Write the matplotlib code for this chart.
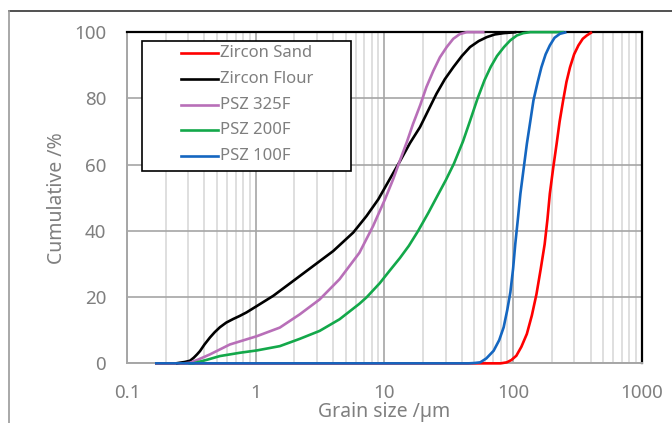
import numpy as np
import matplotlib.pyplot as plt
from matplotlib.lines import Line2D
from matplotlib.patches import Rectangle
from matplotlib.ticker import LogLocator, NullFormatter

plt.rcParams['font.family'] = ['Noto Sans', 'DejaVu Sans']

# grain size (um) and cumulative passing (%) for each powder
sand_x = [0.165, 50, 80, 89.3, 97, 106, 116, 128, 140, 152, 164, 176, 185, 193, 205, 218, 230,
          245, 260, 277, 298, 322, 348, 374, 410]
sand_y = [0, 0, 0, 0.3, 1.0, 2.3, 5.0, 8.9, 14.5, 20.9, 28.5, 36, 43.5, 51.2, 59, 66.3, 73,
          79.4, 85, 89.4, 93.3, 96, 98, 99, 100]

flour_x = [0.24, 0.258, 0.28, 0.309, 0.33, 0.35, 0.369, 0.40, 0.441, 0.48, 0.527, 0.59, 0.669,
           0.75, 0.85, 1.02, 1.37, 1.96, 2.8, 4.0, 5.73, 7.27, 8.96, 11.0, 13.2, 15.8, 18.9,
           22, 25.4, 29.5, 34.3, 40, 46.3, 54, 62.5, 72, 84.5, 106]
flour_y = [0, 0.2, 0.4, 0.8, 1.7, 2.7, 3.7, 5.7, 7.8, 9.4, 10.9, 12.3, 13.4,
           14.3, 15.4, 17.3, 20.4, 24.9, 29.4, 33.9, 39.5, 44.5, 49.5, 55.6, 61.0, 66.5, 71.3,
           76.5, 81.4, 85.8, 89.4, 92.8, 95.5, 97.3, 98.5, 99.3, 99.7, 100]

psz325_x = [0.28, 0.309, 0.36, 0.441, 0.63, 1.02, 1.54, 2.2, 3.14, 4.48, 6.4, 8.18, 10.1,
            11.7, 13.2, 15, 16.7, 19, 21.2, 24, 27, 30.5, 34.3, 38.5, 43.6, 60]
psz325_y = [0, 0.2, 1.2, 2.7, 5.7, 8.2, 10.8, 14.8, 19.3, 25.4, 33.4, 41.5, 49.5,
            55.6, 61.2, 67, 72.3, 78, 83.4, 88.3, 92.4, 95.5, 98, 99.4, 100, 100]

psz200_x = [0.3, 0.327, 0.42, 0.527, 0.754, 1.02, 1.54, 2.2, 3.14, 4.48, 6.4, 7.3, 9.2,
            11, 13.2, 15.5, 18.3, 22, 26, 30, 34.7, 40.8, 46.3, 53, 60, 67, 75, 85, 95,
            107, 120, 136, 250]
psz200_y = [0, 0, 1.1, 2.2, 3.2, 3.9, 5.2, 7.4, 9.8, 13.3, 18.0, 20.0, 24.2,
            28.0, 31.8, 35.5, 40.0, 45.5, 50.8, 55.3, 60.3, 67, 73.2, 80, 85.5, 89.5, 92.8,
            95.5, 97.5, 99, 99.7, 100, 100]

psz100_x = [0.165, 45, 50, 55.6, 62, 70.6, 78, 84.5, 90, 95.3, 100, 104, 109, 114, 121, 128,
            136, 144, 155, 166, 179, 193, 210, 231, 260]
psz100_y = [0, 0, 0.1, 0.3, 1.5, 3.8, 7.0, 10.9, 16.0, 21.5, 28.5, 36, 43.6, 51.2, 59, 66.3,
            73, 79.4, 84.8, 89.4, 93.3, 96, 98.3, 99.5, 100]

names = ['Zircon Sand', 'Zircon Flour', 'PSZ 325F', 'PSZ 200F', 'PSZ 100F']
colors = ['#ff0000', '#000000', '#b86fb8', '#13a84a', '#1466c0']
series = [(sand_x, sand_y), (flour_x, flour_y), (psz325_x, psz325_y),
          (psz200_x, psz200_y), (psz100_x, psz100_y)]

grey = '#7f7f7f'

fig = plt.figure(figsize=(6.72, 4.23), dpi=100)
ax = fig.add_axes([0.189, 0.141, 0.766, 0.783])

for (x, y), c in zip(series, colors):
    ax.plot(x, y, color=c, lw=1.9, solid_capstyle='butt', solid_joinstyle='round',
            zorder=3, clip_on=False)

ax.set_xscale('log')
ax.set_xlim(0.1, 1000)
ax.set_ylim(0, 100)
ax.set_yticks([0, 20, 40, 60, 80, 100])
ax.set_xticks([0.1, 1, 10, 100, 1000])
ax.set_xticklabels(['0.1', '1', '10', '100', '1000'])
ax.xaxis.set_minor_locator(LogLocator(base=10, subs=np.arange(2, 10)))
ax.xaxis.set_minor_formatter(NullFormatter())

ax.grid(True, which='major', color='#a6a6a6', lw=1.2, zorder=1)
ax.grid(True, which='minor', axis='x', color='#d9d9d9', lw=1.2, zorder=0)
ax.set_axisbelow(True)

ax.tick_params(which='both', length=0, labelsize=13.5, labelcolor=grey)
ax.tick_params(axis='y', pad=15)
ax.tick_params(axis='x', pad=15)

for side in ['top', 'right']:
    ax.spines[side].set_color('black')
    ax.spines[side].set_linewidth(1.6)
for side in ['left', 'bottom']:
    ax.spines[side].set_color('#a6a6a6')
    ax.spines[side].set_linewidth(1.4)

ax.set_xlabel('Grain size /µm', fontsize=14, color=grey, labelpad=0)
ax.set_ylabel('Cumulative /%', fontsize=14, color=grey, labelpad=5)

# legend box with line samples
ax.add_patch(Rectangle((0.029, 0.58), 0.406, 0.393, transform=ax.transAxes,
                       facecolor='white', edgecolor='black', lw=1.2, zorder=5, clip_on=False))
for i, (n, c) in enumerate(zip(names, colors)):
    ly = 0.9356 - i * 0.0775
    ax.add_line(Line2D([0.105, 0.177], [ly, ly], transform=ax.transAxes, color=c,
                       lw=1.9, zorder=6))
    ax.text(0.181, ly, n, transform=ax.transAxes, fontsize=12, color=grey,
            va='center', ha='left', zorder=6)

# outer chart frame
fig.add_artist(Line2D([9 / 672, 1], [1 - 11 / 423, 1 - 11 / 423], color='#333333', lw=1.2,
                      transform=fig.transFigure))
fig.add_artist(Line2D([9 / 672, 9 / 672], [0, 1 - 11 / 423], color='#9a9a9a', lw=1.2,
                      transform=fig.transFigure))

fig.savefig('out.png', dpi=100)
